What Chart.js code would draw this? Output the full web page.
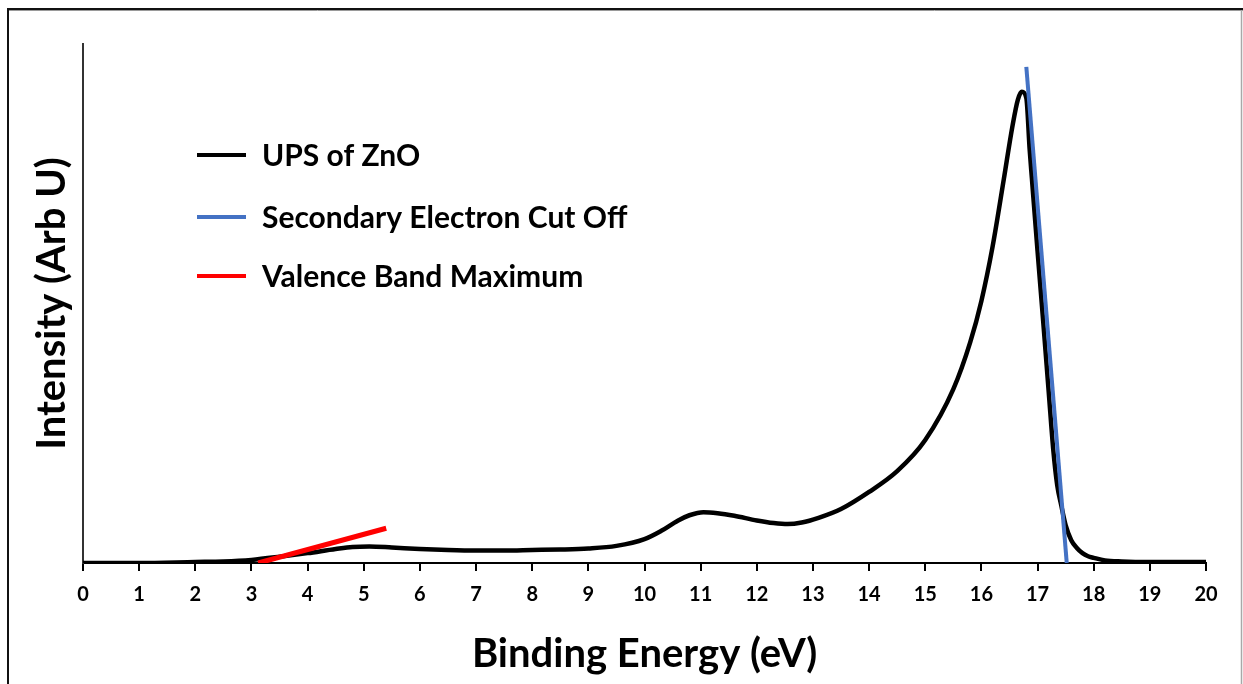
<!DOCTYPE html>
<html>
<head>
<meta charset="utf-8">
<title>UPS of ZnO</title>
<script src="https://cdn.jsdelivr.net/npm/chart.js@4.4.1/dist/chart.umd.min.js"></script>
<style>
  html, body { margin: 0; padding: 0; background: #ffffff; }
  #wrap { width: 1243px; height: 684px; position: relative; }
</style>
</head>
<body>
<div id="wrap"><canvas id="ups"></canvas></div>
<script>
// UPS spectrum of ZnO: binding energy (eV) vs. intensity (arbitrary units)
const energy = [0, 1, 2, 2.5, 3, 3.5, 4, 4.5, 4.8, 5.1, 5.5, 6, 6.5, 7, 7.5, 8, 8.5, 9, 9.5, 10,
  10.3, 10.6, 10.8, 11.05, 11.3, 11.6, 12, 12.3, 12.55, 12.8, 13.1, 13.5, 14, 14.5, 15, 15.5,
  15.8, 16.0, 16.2, 16.4, 16.55, 16.65, 16.72, 16.8, 16.86, 16.9, 17.0, 17.1, 17.2, 17.28,
  17.35, 17.42, 17.5, 17.6, 17.7, 17.8, 17.9, 18.0, 18.2, 18.5, 19, 20];
const intensity = [0, 0, 0.2, 0.3, 0.6, 1.2, 1.9, 2.7, 3.1, 3.2, 3.0, 2.7, 2.5, 2.4, 2.4, 2.5,
  2.6, 2.8, 3.3, 4.6, 6.2, 8.2, 9.2, 9.8, 9.6, 9.1, 8.2, 7.7, 7.5, 7.8, 8.7, 10.4, 13.7, 17.7,
  23.7, 33.5, 42.5, 50.5, 61.0, 74.0, 84.0, 89.3, 90.8, 89.6, 79.6, 74.0, 60.1, 46.6, 32.8,
  21.8, 15.0, 11.2, 7.3, 4.4, 2.9, 1.9, 1.3, 1.0, 0.5, 0.3, 0.2, 0.2];

// Linear fit to the secondary electron cut-off edge
const cutoffEnergy = [16.8, 17.52];
const cutoffIntensity = [95.6, 0];

// Linear fit to the valence band onset
const vbmEnergy = [3.12, 5.40];
const vbmIntensity = [0, 6.7];

const seriesNames = ['UPS of ZnO', 'Secondary Electron Cut Off', 'Valence Band Maximum'];
const xTickValues = [0, 1, 2, 3, 4, 5, 6, 7, 8, 9, 10, 11, 12, 13, 14, 15, 16, 17, 18, 19, 20];

const toPoints = (xs, ys) => xs.map((x, i) => ({ x: x, y: ys[i] }));

const FONT = 'Lato, "Open Sans", "DejaVu Sans", sans-serif';

// Page frame and in-plot legend
const framePlugin = {
  id: 'frame',
  beforeDraw(chart) {
    const ctx = chart.ctx;
    ctx.save();
    ctx.fillStyle = '#ffffff';
    ctx.fillRect(0, 0, chart.width, chart.height);
    ctx.restore();
  },
  afterDraw(chart) {
    const ctx = chart.ctx;
    ctx.save();
    ctx.strokeStyle = '#111111';
    ctx.lineWidth = 2;
    ctx.beginPath();
    ctx.moveTo(8, chart.height);
    ctx.lineTo(8, 9);
    ctx.lineTo(chart.width, 9);
    ctx.stroke();
    ctx.strokeStyle = '#9a9a9a';
    ctx.lineWidth = 1;
    ctx.beginPath();
    ctx.moveTo(9, 10.5);
    ctx.lineTo(chart.width, 10.5);
    ctx.stroke();
    ctx.strokeStyle = '#a8a8a8';
    ctx.lineWidth = 1.5;
    ctx.beginPath();
    ctx.moveTo(chart.width - 1.5, 10);
    ctx.lineTo(chart.width - 1.5, chart.height);
    ctx.stroke();

    // legend entries
    const rows = [155, 217, 276];
    ctx.font = 'bold 30px ' + FONT;
    ctx.textBaseline = 'middle';
    ctx.textAlign = 'left';
    chart.data.datasets.forEach((ds, i) => {
      const y = rows[i];
      ctx.strokeStyle = ds.borderColor;
      ctx.lineWidth = 4;
      ctx.lineCap = 'butt';
      ctx.beginPath();
      ctx.moveTo(197, y);
      ctx.lineTo(246, y);
      ctx.stroke();
      ctx.fillStyle = '#000000';
      ctx.fillText(ds.label, 262, y + 1);
    });
    ctx.restore();
  }
};

new Chart(document.getElementById('ups'), {
  type: 'line',
  data: {
    datasets: [
      {
        label: seriesNames[0],
        data: toPoints(energy, intensity),
        borderColor: '#000000',
        borderWidth: 4.5,
        pointRadius: 0,
        cubicInterpolationMode: 'monotone',
        order: 3
      },
      {
        label: seriesNames[1],
        data: toPoints(cutoffEnergy, cutoffIntensity),
        borderColor: '#4472C4',
        borderWidth: 4,
        pointRadius: 0,
        order: 1
      },
      {
        label: seriesNames[2],
        data: toPoints(vbmEnergy, vbmIntensity),
        borderColor: '#FF0000',
        borderWidth: 5,
        pointRadius: 0,
        order: 2
      }
    ]
  },
  options: {
    responsive: true,
    maintainAspectRatio: false,
    animation: false,
    layout: { padding: { left: 8, top: 44, right: 37, bottom: 10 } },
    plugins: {
      legend: { display: false },
      tooltip: { enabled: false }
    },
    scales: {
      x: {
        type: 'linear',
        min: 0,
        max: 20,
        afterFit(scale) { scale.height = 111; },
        afterBuildTicks(scale) { scale.ticks = xTickValues.map(v => ({ value: v })); },
        grid: { display: true, drawOnChartArea: false, drawTicks: true, tickLength: 8, color: '#000000', lineWidth: 2 },
        border: { display: true, color: '#000000', width: 2 },
        ticks: { color: '#000000', padding: 12, maxRotation: 0, autoSkip: false, font: { family: FONT, size: 20, weight: 'bold' } },
        title: {
          display: true,
          text: 'Binding Energy (eV)',
          color: '#000000',
          font: { family: FONT, size: 40, weight: 'bold', lineHeight: 1 },
          padding: { top: 0, bottom: 0 }
        }
      },
      y: {
        type: 'linear',
        min: 0,
        max: 100,
        afterFit(scale) { scale.width = 75; },
        grid: { display: false },
        border: { display: true, color: '#333333', width: 2 },
        ticks: { display: false },
        title: {
          display: true,
          text: 'Intensity (Arb U)',
          color: '#000000',
          font: { family: FONT, size: 40, weight: 'bold', lineHeight: 1 },
          padding: { top: 24, bottom: 0 }
        }
      }
    }
  },
  plugins: [framePlugin]
});
</script>
</body>
</html>
